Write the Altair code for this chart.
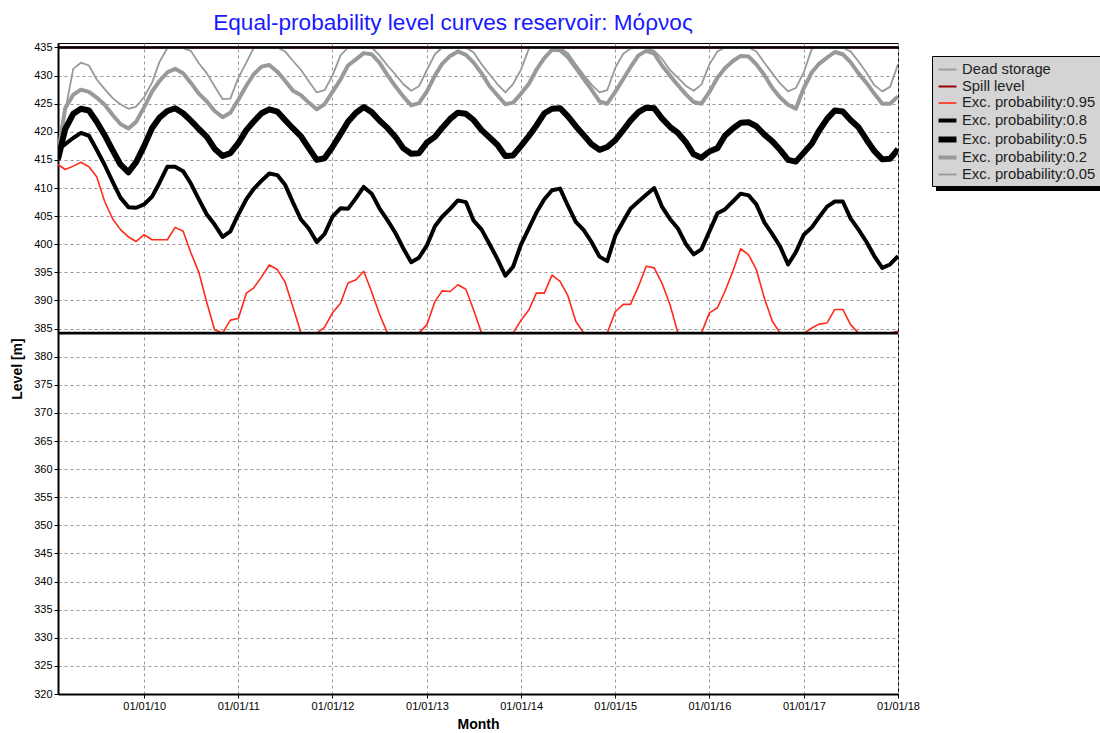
import altair as alt
import pandas as pd

# Monthly time axis: Feb 2009 .. Jan 2018
months = pd.date_range("2009-02-01", periods=108, freq="MS").strftime("%Y-%m-%dT00:00:00").tolist()

# Equal-probability reservoir level curves [m]
p005 = [416.2, 423.7, 431.2, 432.3, 431.8, 429.3, 427.6, 426.0, 424.9, 424.1,
        424.5, 426.2, 428.8, 432.4, 434.9, 435.0, 434.9, 434.4, 432.2, 430.4,
        428.1, 425.8, 425.9, 429.6, 432.3, 434.9, 435.0, 435.0, 435.0, 434.3,
        432.6, 431.0, 429.0, 427.0, 427.4, 430.0, 433.6, 435.0, 435.0, 435.0,
        435.0, 433.6, 431.8, 430.2, 428.5, 427.3, 428.1, 431.0, 433.8, 435.0,
        435.0, 435.0, 435.0, 434.1, 432.0, 430.2, 428.5, 427.0, 428.5, 431.1,
        434.9, 435.0, 435.0, 435.0, 435.0, 434.0, 432.0, 430.1, 428.4, 427.0,
        427.4, 431.4, 433.9, 434.8, 435.0, 434.9, 434.4, 433.0, 431.0, 429.6,
        428.2, 427.3, 428.4, 432.0, 434.3, 435.0, 435.0, 435.0, 435.0, 434.3,
        432.3, 430.4, 428.6, 427.2, 427.8, 430.6, 434.8, 435.0, 435.0, 435.0,
        435.0, 434.3, 432.5, 430.5, 428.3, 427.2, 428.0, 432.0]
p02 = [416.2, 424.2, 426.6, 427.5, 427.1, 426.1, 424.8, 423.0, 421.4, 420.6,
       421.8, 424.4, 427.2, 429.0, 430.6, 431.2, 430.4, 428.7, 426.8, 425.4,
       423.7, 422.6, 423.4, 425.7, 428.2, 430.2, 431.6, 431.9, 430.7, 429.1,
       427.3, 426.5, 425.2, 424.0, 424.9, 427.1, 429.3, 431.8, 432.9, 434.0,
       433.8, 432.3, 430.1, 428.1, 426.3, 424.7, 425.1, 427.2, 430.0, 432.1,
       433.5, 434.3, 433.7, 432.3, 430.4, 428.1, 426.5, 424.9, 425.2, 426.8,
       428.6, 431.0, 433.1, 434.6, 434.5, 433.3, 431.4, 429.4, 427.5, 425.4,
       425.0, 427.1, 429.4, 431.5, 433.6, 434.4, 433.9, 431.8, 430.0, 428.3,
       426.7, 425.3, 425.0, 427.1, 429.6, 431.3, 432.6, 433.5, 433.4, 432.0,
       430.1, 427.8, 426.1, 424.8, 424.1, 427.8, 430.6, 432.1, 433.2, 434.2,
       433.8, 432.4, 430.4, 428.7, 426.8, 425.0, 425.0, 426.3]
p05 = [415.1, 420.5, 423.2, 424.1, 423.8, 421.8, 419.4, 416.7, 414.2, 412.8,
       414.6, 417.5, 420.7, 422.5, 423.7, 424.2, 423.3, 422.0, 420.5, 419.1,
       417.0, 415.7, 416.2, 418.0, 420.3, 421.8, 423.3, 424.0, 423.6, 422.1,
       420.6, 419.2, 417.1, 415.0, 415.3, 417.3, 419.6, 421.8, 423.4, 424.4,
       423.5, 422.0, 420.7, 419.1, 417.1, 416.1, 416.2, 418.1, 419.1, 420.7,
       422.3, 423.4, 423.2, 422.1, 420.3, 419.0, 417.7, 415.7, 415.8, 417.5,
       419.3, 421.1, 423.3, 424.1, 424.2, 422.8, 421.0, 419.4, 417.8, 416.8,
       417.3, 418.5, 420.3, 422.0, 423.5, 424.3, 424.2, 422.4, 420.9, 419.8,
       418.2, 416.0, 415.4, 416.5, 417.1, 419.3, 420.6, 421.6, 421.7, 421.0,
       419.5, 418.3, 416.8, 415.0, 414.7, 416.3, 417.9, 420.2, 422.3, 423.8,
       423.6, 422.1, 420.8, 418.6, 416.6, 415.1, 415.2, 416.9]
p08 = [416.8, 417.8, 418.9, 419.8, 419.3, 416.8, 414.1, 411.1, 408.3, 406.6,
       406.5, 407.1, 408.5, 410.9, 413.8, 413.8, 413.0, 410.8, 408.0, 405.3,
       403.5, 401.3, 402.3, 405.3, 408.0, 409.8, 411.3, 412.6, 412.3, 410.6,
       407.4, 404.4, 402.8, 400.4, 401.8, 404.9, 406.4, 406.3, 408.2, 410.2,
       409.0, 406.4, 404.3, 402.0, 399.3, 396.8, 397.6, 399.8, 403.2, 404.9,
       406.3, 407.8, 407.5, 404.2, 402.6, 400.0, 397.4, 394.4, 396.0, 400.0,
       402.9, 405.6, 408.0, 409.6, 409.9, 406.9, 404.0, 402.5, 400.4, 397.8,
       397.0, 401.5, 404.1, 406.3, 407.6, 408.8, 410.0, 406.7, 404.5, 402.8,
       400.1, 398.2, 399.1, 402.3, 405.5, 406.2, 407.6, 409.0, 408.7, 407.1,
       403.9, 401.8, 399.6, 396.4, 398.6, 401.7, 403.0, 404.8, 406.7, 407.6,
       407.6, 404.6, 402.6, 400.4, 397.9, 395.8, 396.4, 397.9]
p095 = [414.2, 413.3, 413.9, 414.6, 413.8, 412.0, 407.6, 404.5, 402.6, 401.3,
        400.5, 401.7, 400.8, 400.8, 400.8, 403.0, 402.3, 398.5, 395.0, 389.6,
        384.8, 384.2, 386.5, 386.8, 391.3, 392.2, 394.2, 396.3, 395.5, 393.3,
        388.8, 384.2, 384.2, 384.2, 385.2, 387.8, 389.5, 393.1, 393.7, 395.2,
        391.5, 387.6, 384.2, 384.2, 384.2, 384.2, 384.2, 385.7, 389.8, 391.7,
        391.6, 392.8, 392.0, 388.3, 384.2, 384.2, 384.2, 384.2, 384.2, 386.5,
        388.4, 391.3, 391.3, 394.5, 393.4, 390.9, 386.3, 384.2, 384.2, 384.2,
        384.2, 388.0, 389.3, 389.3, 392.5, 396.1, 395.8, 393.1, 389.3, 384.2,
        384.2, 384.2, 384.2, 387.8, 388.7, 391.6, 395.2, 399.2, 398.1, 395.5,
        390.4, 386.3, 384.2, 384.2, 384.2, 384.2, 385.1, 385.8, 386.0, 388.4,
        388.4, 385.7, 384.2, 384.2, 384.2, 384.2, 384.2, 384.5]

dead_storage = 384.2
spill_level = 435.0

names = ["Dead storage", "Spill level", "Exc. probability:0.95",
         "Exc. probability:0.8", "Exc. probability:0.5",
         "Exc. probability:0.2", "Exc. probability:0.05"]
colors = ["#a0a0a0", "#a00000", "#ff2a1a", "#000000", "#000000", "#999999", "#999999"]
widths = [2, 2, 1.6, 4, 6, 4, 1.8]

curves = {names[2]: p095, names[3]: p08, names[4]: p05, names[5]: p02, names[6]: p005}
rows = []
for name in [names[6], names[5], names[4], names[3], names[2]]:
    for d, v in zip(months, curves[name]):
        rows.append({"month": d, "level": v, "series": name})
curve_df = pd.DataFrame(rows)
levels_df = pd.DataFrame({"series": [names[0], names[1]], "level": [dead_storage, spill_level]})

font = "Liberation Sans"
y_enc = alt.Y("level:Q",
              scale=alt.Scale(domain=[320, 435.8], nice=False, zero=False),
              axis=alt.Axis(values=list(range(320, 436, 5)), title="Level [m]",
                            titleFontWeight="bold", titleFontSize=14, titlePadding=9,
                            gridDash=[3, 3], gridColor="#999999", tickSize=4,
                            labelFontSize=11, labelPadding=2))
color_enc = alt.Color("series:O", scale=alt.Scale(domain=names, range=colors), title=None)
width_enc = alt.StrokeWidth("series:O",
                            scale=alt.Scale(type="ordinal", domain=names, range=widths),
                            title=None)

lines = alt.Chart(curve_df).mark_line(strokeJoin="round", clip=True).encode(
    x=alt.X("month:T",
            scale=alt.Scale(domain=[alt.DateTime(year=2009, month=2, date=1),
                                    alt.DateTime(year=2018, month=1, date=1)]),
            axis=alt.Axis(values=[alt.DateTime(year=y, month=1, date=1) for y in range(2010, 2019)],
                          format="%d/%m/%y", title="Month", titleFontWeight="bold",
                          titleFontSize=14, titlePadding=6, gridDash=[3, 3],
                          gridColor="#999999", tickSize=4, labelFontSize=11, labelPadding=2,
                          labelFlush=False, labelOverlap=False)),
    y=y_enc,
    color=color_enc,
    strokeWidth=width_enc,
    order=alt.Order("month:T"),
    detail="series:N",
)

level_rules = alt.Chart(levels_df).mark_rule(strokeJoin="round").encode(
    y=y_enc, color=color_enc, strokeWidth=width_enc)
level_black = alt.Chart(levels_df).mark_rule(color="black", strokeWidth=2.6).encode(y=y_enc)

# legend drop shadow
shadow = alt.Chart(levels_df.head(1)).mark_rect(color="black").encode(
    x=alt.value(878), x2=alt.value(1047), y=alt.value(17), y2=alt.value(148))

chart = alt.layer(shadow, level_rules, lines, level_black).properties(
    width=840, height=651,
    title=alt.TitleParams("Equal-probability level curves reservoir: Μόρνος",
                          color="#1a1aff", fontSize=22.6, font=font, fontWeight="normal",
                          anchor="middle", dx=-25, offset=7),
    autosize=alt.AutoSizeParams(type="none"),
    padding={"left": 58, "top": 43, "right": 202, "bottom": 39},
).configure(font=font).configure_view(stroke="black", strokeWidth=1).configure_mark(
    strokeJoin="round",
).configure_axis(
    domainColor="black", domainWidth=2, tickColor="black", labelColor="black",
    titleColor="black", labelFont=font, titleFont=font,
).configure_legend(
    orient="none", legendX=874, legendY=13, fillColor="#d4d4d4", strokeColor="black",
    padding=4, labelFont=font, labelFontSize=14.8, labelColor="#222222", labelLimit=300,
    symbolType="M-1.1,0H1.1", symbolSize=266, rowPadding=0, labelOffset=3,
)

chart.save("out.html", embed_options={"renderer": "svg", "actions": False})
